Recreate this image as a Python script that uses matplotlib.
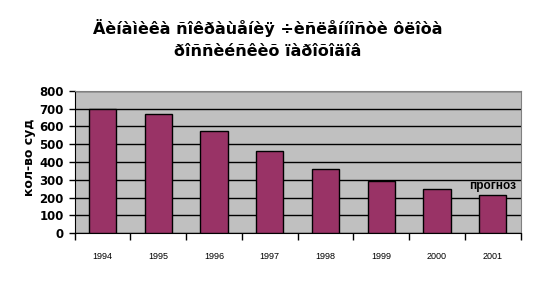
import numpy as np
import matplotlib
matplotlib.use('Agg')
import matplotlib.pyplot as plt

# данные по годам
years = ['1994', '1995', '1996', '1997', '1998', '1999', '2000', '2001']
ships = [700, 670, 572, 460, 360, 295, 246, 212]
y_ticks = [0, 100, 200, 300, 400, 500, 600, 700, 800]

title_1 = 'Äèíàìèêà ñîêðàùåíèÿ ÷èñëåííîñòè ôëîòà'
title_2 = 'ðîññèéñêèõ ïàðîõîäîâ'
y_label = 'кол-во суд'
note = 'прогноз'

plt.rcParams['font.family'] = ['Liberation Sans', 'DejaVu Sans']

fig = plt.figure(figsize=(5.35, 3.03), dpi=100)
ax = fig.add_axes([0.1396, 0.231, 0.8334, 0.4687])
ax.set_facecolor('#c0c0c0')

x = np.arange(len(years))
ax.set_axisbelow(True)
ax.yaxis.grid(True, color='black', linewidth=1)
ax.bar(x, ships, width=0.49, color='#993366', edgecolor='black', linewidth=1, zorder=3)

ax.set_xlim(-0.5, len(years) - 0.5)
ax.set_ylim(0, 800)
ax.set_yticks(y_ticks)
ax.set_yticklabels([str(v) for v in y_ticks], fontsize=8.5, fontweight='bold',
                   family=['DejaVu Sans'])
ax.tick_params(axis='y', length=4, width=1, pad=4)

# подписи лет по центрам, засечки на границах
ax.set_xticks(x)
ax.set_xticklabels(years, fontsize=6.5, stretch='condensed')
ax.tick_params(axis='x', which='major', length=0, pad=14)
ax.set_xticks(np.arange(len(years) + 1) - 0.5, minor=True)
ax.tick_params(axis='x', which='minor', length=5, width=1)

for s in ['top', 'right']:
    ax.spines[s].set_color('#808080')
for s in ['left', 'bottom']:
    ax.spines[s].set_color('black')

ax.text(x[-1], ships[-1] + 20, note, ha='center', va='bottom',
        fontsize=8.5, fontweight='bold')

fig.text(0.056, 0.48, y_label, rotation=90, ha='center', va='center',
         fontsize=9, fontweight='bold', family=['DejaVu Sans'])

fig.text(0.5, 0.906, title_1, ha='center', va='center', fontsize=11.5,
         fontweight='bold', family=['DejaVu Sans'])
fig.text(0.5, 0.83, title_2, ha='center', va='center', fontsize=11.5,
         fontweight='bold', family=['DejaVu Sans'])

fig.savefig('out.png', dpi=100, facecolor='white')
